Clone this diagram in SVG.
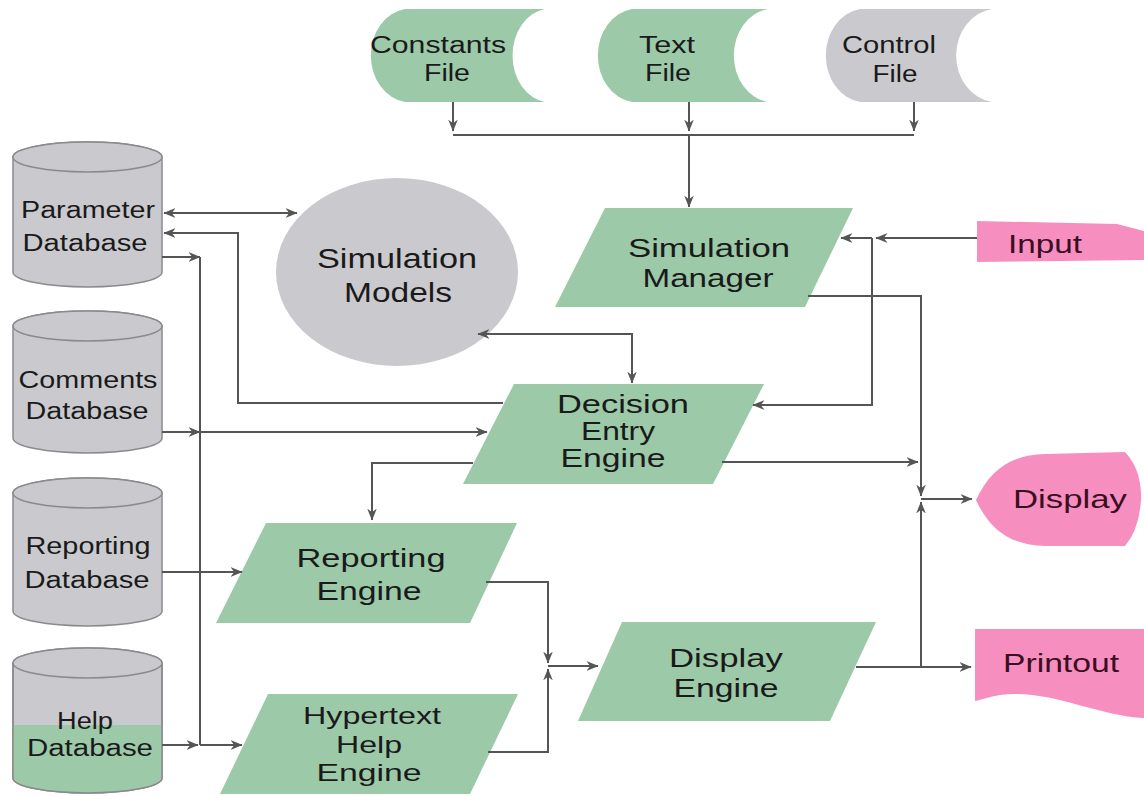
<svg xmlns="http://www.w3.org/2000/svg" width="1144" height="796" viewBox="0 0 1144 796">
<style>
.g{fill:#9cc9a8}
.gr{fill:#cacace}
.pk{fill:#f78ec0}
.cyl{fill:#cacace;stroke:#8a8a8e;stroke-width:1.5}
.t{font-family:"Liberation Sans",Arial,sans-serif;fill:#1a1a1a;text-anchor:middle}
.tp{font-family:"Liberation Sans",Arial,sans-serif;fill:#3a0f22;text-anchor:middle}
.c{fill:none;stroke:#555;stroke-width:2}
</style>
<defs>
<marker id="a" viewBox="0 0 10 8" refX="9.5" refY="4" markerWidth="12" markerHeight="10" markerUnits="userSpaceOnUse" orient="auto-start-reverse">
<path d="M0,0 L10,4 L0,8 L3,4 Z" fill="#555"/>
</marker>
<clipPath id="helpclip"><path d="M13,663 A74.5,15 0 0 1 162,663 L162,778 A74.5,15 0 0 1 13,778 Z"/></clipPath>
</defs>
<rect width="1144" height="796" fill="#fff"/>

<g id="constants-file">
<path class="g" d="M405,9 L545,9 A38,47 0 0 0 545,102 L405,102 A40,47 0 0 1 405,9 Z"/>
<text class="t" x="438" y="53" font-size="23" textLength="136" lengthAdjust="spacingAndGlyphs">Constants</text>
<text class="t" x="447" y="81" font-size="23" textLength="46" lengthAdjust="spacingAndGlyphs">File</text>
</g>
<g id="text-file">
<path class="g" d="M632,9 L768,9 A40,47 0 0 0 768,102 L632,102 A40,47 0 0 1 632,9 Z"/>
<text class="t" x="667" y="53" font-size="23" textLength="56" lengthAdjust="spacingAndGlyphs">Text</text>
<text class="t" x="668" y="81" font-size="23" textLength="46" lengthAdjust="spacingAndGlyphs">File</text>
</g>
<g id="control-file">
<path class="gr" d="M860,9 L992,9 A42,47 0 0 0 992,102 L860,102 A40,47 0 0 1 860,9 Z"/>
<text class="t" x="889" y="53" font-size="23" textLength="94" lengthAdjust="spacingAndGlyphs">Control</text>
<text class="t" x="895" y="82" font-size="23" textLength="45" lengthAdjust="spacingAndGlyphs">File</text>
</g>

<g id="parameter-database">
<path class="cyl" d="M13,157 A74.5,15 0 0 1 162,157 L162,272 A74.5,15 0 0 1 13,272 Z"/>
<ellipse class="cyl" cx="87.5" cy="157" rx="74.5" ry="15"/>
<text class="t" x="88" y="218" font-size="23" textLength="134" lengthAdjust="spacingAndGlyphs">Parameter</text>
<text class="t" x="85" y="251" font-size="23" textLength="125" lengthAdjust="spacingAndGlyphs">Database</text>
</g>
<g id="comments-database">
<path class="cyl" d="M13,326 A74.5,15 0 0 1 162,326 L162,438 A74.5,15 0 0 1 13,438 Z"/>
<ellipse class="cyl" cx="87.5" cy="326" rx="74.5" ry="15"/>
<text class="t" x="88" y="388" font-size="23" textLength="139" lengthAdjust="spacingAndGlyphs">Comments</text>
<text class="t" x="87" y="419" font-size="23" textLength="123" lengthAdjust="spacingAndGlyphs">Database</text>
</g>
<g id="reporting-database">
<path class="cyl" d="M13,493 A74.5,15 0 0 1 162,493 L162,611 A74.5,15 0 0 1 13,611 Z"/>
<ellipse class="cyl" cx="87.5" cy="493" rx="74.5" ry="15"/>
<text class="t" x="88" y="554" font-size="23" textLength="125" lengthAdjust="spacingAndGlyphs">Reporting</text>
<text class="t" x="87" y="588" font-size="23" textLength="125" lengthAdjust="spacingAndGlyphs">Database</text>
</g>
<g id="help-database">
<path class="cyl" d="M13,663 A74.5,15 0 0 1 162,663 L162,778 A74.5,15 0 0 1 13,778 Z"/>
<rect class="g" x="10" y="725" width="156" height="70" clip-path="url(#helpclip)"/>
<path d="M162,663 L162,778 A74.5,15 0 0 1 13,778 L13,663" fill="none" stroke="#8a8a8e" stroke-width="1.5"/>
<ellipse class="cyl" cx="87.5" cy="663" rx="74.5" ry="15"/>
<text class="t" x="85" y="729" font-size="23" textLength="56" lengthAdjust="spacingAndGlyphs">Help</text>
<text class="t" x="90" y="756" font-size="23" textLength="126" lengthAdjust="spacingAndGlyphs">Database</text>
</g>

<g id="simulation-models">
<ellipse class="gr" cx="397" cy="272" rx="121" ry="94"/>
<text class="t" x="397" y="268" font-size="27" textLength="160" lengthAdjust="spacingAndGlyphs">Simulation</text>
<text class="t" x="398" y="302" font-size="27" textLength="108" lengthAdjust="spacingAndGlyphs">Models</text>
</g>
<g id="simulation-manager">
<polygon class="g" points="605,208 853,208 805,307 555,307"/>
<text class="t" x="709" y="257" font-size="25" textLength="162" lengthAdjust="spacingAndGlyphs">Simulation</text>
<text class="t" x="708" y="287" font-size="25" textLength="131" lengthAdjust="spacingAndGlyphs">Manager</text>
</g>
<g id="decision-entry-engine">
<polygon class="g" points="514,384 764,384 713,484 463,484"/>
<text class="t" x="623" y="413" font-size="25" textLength="132" lengthAdjust="spacingAndGlyphs">Decision</text>
<text class="t" x="618" y="440" font-size="25" textLength="74" lengthAdjust="spacingAndGlyphs">Entry</text>
<text class="t" x="613" y="467" font-size="25" textLength="105" lengthAdjust="spacingAndGlyphs">Engine</text>
</g>
<g id="reporting-engine">
<polygon class="g" points="266,523 517,523 470,623 216,623"/>
<text class="t" x="371" y="567" font-size="25" textLength="149" lengthAdjust="spacingAndGlyphs">Reporting</text>
<text class="t" x="369" y="600" font-size="25" textLength="105" lengthAdjust="spacingAndGlyphs">Engine</text>
</g>
<g id="hypertext-help-engine">
<polygon class="g" points="268,694 518,694 470,794 220,794"/>
<text class="t" x="372" y="724" font-size="24" textLength="138" lengthAdjust="spacingAndGlyphs">Hypertext</text>
<text class="t" x="369" y="753" font-size="24" textLength="66" lengthAdjust="spacingAndGlyphs">Help</text>
<text class="t" x="369" y="781" font-size="24" textLength="105" lengthAdjust="spacingAndGlyphs">Engine</text>
</g>
<g id="display-engine">
<polygon class="g" points="622,622 876,622 830,721 578,721"/>
<text class="t" x="726" y="667" font-size="25" textLength="114" lengthAdjust="spacingAndGlyphs">Display</text>
<text class="t" x="726" y="697" font-size="25" textLength="105" lengthAdjust="spacingAndGlyphs">Engine</text>
</g>

<g id="input">
<path class="pk" d="M977,221 L1117,224 L1144,231 L1144,260 L977,262 Z"/>
<text class="tp" x="1045" y="253" font-size="26" textLength="74" lengthAdjust="spacingAndGlyphs">Input</text>
</g>
<g id="display">
<path class="pk" d="M976,500 C990,470 1010,455 1045,454 L1125,452 Q1142,470 1141,500 Q1139,530 1125,546 L1045,546 C1010,545 990,530 976,500 Z"/>
<text class="tp" x="1070" y="508" font-size="26" textLength="114" lengthAdjust="spacingAndGlyphs">Display</text>
</g>
<g id="printout">
<path class="pk" d="M975,629 H1144 V718 C1100,716 1060,694 1015,694 C995,694 985,699 975,701 Z"/>
<text class="tp" x="1061" y="672" font-size="26" textLength="116" lengthAdjust="spacingAndGlyphs">Printout</text>
</g>

<g id="connectors" class="c">
<path d="M453,102 V131" marker-end="url(#a)"/>
<path d="M689,102 V131" marker-end="url(#a)"/>
<path d="M914,102 V131" marker-end="url(#a)"/>
<path d="M453,135 H914"/>
<path d="M689,135 V207" marker-end="url(#a)"/>
<path d="M977,238 H876" marker-end="url(#a)"/>
<path d="M872,238 H841" marker-end="url(#a)"/>
<path d="M872,238 V405 H753" marker-end="url(#a)"/>
<path d="M808,296 H921 V496" marker-end="url(#a)"/>
<path d="M722,462 H918" marker-end="url(#a)"/>
<path d="M856,667 H971" marker-end="url(#a)"/>
<path d="M921,667 V502" marker-end="url(#a)"/>
<path d="M921,499 H972" marker-end="url(#a)"/>
<path d="M164,213 H297" marker-start="url(#a)" marker-end="url(#a)"/>
<path d="M503,403 H238 V233 H164" marker-end="url(#a)"/>
<path d="M162,257 H200" marker-end="url(#a)"/>
<path d="M200,257 V745"/>
<path d="M162,432 H200" marker-end="url(#a)"/>
<path d="M200,432 H487" marker-end="url(#a)"/>
<path d="M478,334 H632 V383" marker-start="url(#a)" marker-end="url(#a)"/>
<path d="M473,463 H372 V520" marker-end="url(#a)"/>
<path d="M162,572 H242" marker-end="url(#a)"/>
<path d="M162,745 H198" marker-end="url(#a)"/>
<path d="M200,745 H242" marker-end="url(#a)"/>
<path d="M486,582 H548 V663" marker-end="url(#a)"/>
<path d="M488,752 H548 V669" marker-end="url(#a)"/>
<path d="M548,666 H598" marker-end="url(#a)"/>
</g>
</svg>
